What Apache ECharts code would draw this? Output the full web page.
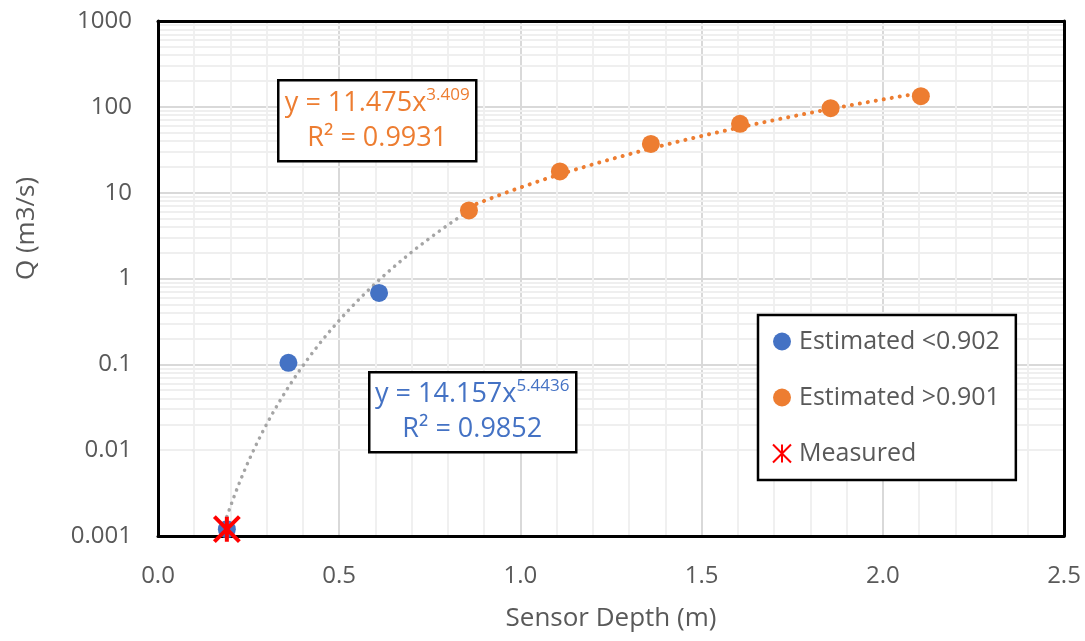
<!DOCTYPE html>
<html>
<head>
<meta charset="utf-8">
<script src="https://cdn.jsdelivr.net/npm/echarts@6/dist/echarts.min.js"></script>
<style>
html,body{margin:0;padding:0;background:#fff;}
#chart{width:1085px;height:641px;}
</style>
</head>
<body>
<div id="chart"></div>
<script>
// ---- data ----
const blueX = [0.19, 0.36, 0.61];
const blueY = [0.0012, 0.104, 0.68];
const orangeX = [0.858, 1.109, 1.36, 1.606, 1.856, 2.105];
const orangeY = [6.2, 17.7, 37, 63.5, 96.5, 133];
const measuredX = [0.19];
const measuredY = [0.0012];
// trendline equations shown on the chart: y = a * x^b
const blueTrend = [14.157, 5.4436];
const blueTrendRange = [0.19, 0.858];
const orangeTrend = [11.475, 3.409];
const orangeTrendRange = [0.858, 2.105];
// axis ticks
const xTicks = [0.0, 0.5, 1.0, 1.5, 2.0, 2.5];
const yTicks = [0.001, 0.01, 0.1, 1, 10, 100, 1000];
const yTickLabels = ['0.001', '0.01', '0.1', '1', '10', '100', '1000'];
const legendNames = ['Estimated <0.902', 'Estimated >0.901', 'Measured'];

const FONT = '"Open Sans", "Noto Sans", sans-serif';
const GREY_TXT = '#595959';

function pairs(xs, ys) { return xs.map((x, i) => [x, ys[i]]); }
function trend(coef, range) {
  const out = [];
  const n = 60;
  for (let i = 0; i <= n; i++) {
    const x = range[0] + (range[1] - range[0]) * i / n;
    out.push([x, coef[0] * Math.pow(x, coef[1])]);
  }
  return out;
}
// log minor grid values (2..9 within each decade)
const minorY = [];
for (let d = 0; d < yTicks.length - 1; d++) {
  for (let m = 2; m <= 9; m++) minorY.push({ yAxis: +(yTicks[d] * m).toPrecision(3) });
}

const chart = echarts.init(document.getElementById('chart'), null, { renderer: 'canvas' });
const option = {
  animation: false,
  backgroundColor: '#fff',
  textStyle: { fontFamily: FONT },
  grid: { left: 158, right: 21, top: 21, bottom: 105, containLabel: false },
  xAxis: [{
    type: 'value', min: 0, max: 2.5, interval: 0.5,
    name: 'Sensor Depth (m)', nameLocation: 'middle', nameGap: 70,
    nameTextStyle: { color: GREY_TXT, fontSize: 26, fontFamily: FONT },
    axisLine: { show: true, onZero: false, lineStyle: { color: '#000', width: 3 } },
    axisTick: { show: false },
    axisLabel: { color: GREY_TXT, fontSize: 24, margin: 28, fontFamily: FONT,
      formatter: v => xTicks.includes(+v.toFixed(1)) ? v.toFixed(1) : '' },
    splitLine: { show: true, lineStyle: { color: '#D9D9D9', width: 2 } },
    minorTick: { show: false, splitNumber: 5 },
    minorSplitLine: { show: true, lineStyle: { color: '#F0F0F0', width: 2 } }
  }, {
    type: 'value', min: 0, max: 2.5, position: 'top', show: true,
    axisLine: { show: true, onZero: false, lineStyle: { color: '#000', width: 3 } },
    axisTick: { show: false }, axisLabel: { show: false }, splitLine: { show: false }
  }],
  yAxis: [{
    type: 'log', logBase: 10, min: 0.001, max: 1000, splitNumber: 6,
    name: 'Q (m3/s)', nameLocation: 'middle', nameGap: 118, nameRotate: 90,
    nameTextStyle: { color: GREY_TXT, fontSize: 26, fontFamily: FONT, padding: [0, 0, 0, 100] },
    axisLine: { show: true, onZero: false, lineStyle: { color: '#000', width: 3 } },
    axisTick: { show: false },
    axisLabel: { color: GREY_TXT, fontSize: 24, margin: 26, fontFamily: FONT,
      formatter: v => { const i = yTicks.findIndex(t => Math.abs(Math.log10(t) - Math.log10(v)) < 1e-6); return i >= 0 ? yTickLabels[i] : ''; } },
    splitLine: { show: true, lineStyle: { color: '#D9D9D9', width: 2 } }
  }, {
    type: 'log', logBase: 10, min: 0.001, max: 1000, position: 'right',
    axisLine: { show: true, onZero: false, lineStyle: { color: '#000', width: 3 } },
    axisTick: { show: false }, axisLabel: { show: false }, splitLine: { show: false }
  }],
  legend: {
    data: legendNames, z: 20,
    orient: 'vertical', left: 758, top: 315,
    backgroundColor: '#fff', borderColor: '#000', borderWidth: 2.5,
    padding: [14, 16, 14, 14], itemGap: 31, itemWidth: 18, itemHeight: 18,
    textStyle: { color: GREY_TXT, fontSize: 25, fontFamily: FONT, padding: [0, 0, 0, 3] }
  },
  series: [
    {
      name: 'minor grid', type: 'line', data: [], silent: true, z: 0,
      markLine: { silent: true, z: 0, symbol: 'none', label: { show: false },
        lineStyle: { color: '#EFEFEF', width: 2, type: 'solid' }, data: minorY }
    },
    {
      name: 'Trend blue', type: 'line', data: trend(blueTrend, blueTrendRange),
      showSymbol: false, symbol: 'none', silent: true, z: 3,
      lineStyle: { color: '#A5A5A5', width: 3.5, type: [0.1, 7], cap: 'round' }
    },
    {
      name: 'Trend orange', type: 'line', data: trend(orangeTrend, orangeTrendRange),
      showSymbol: false, symbol: 'none', silent: true, z: 3,
      lineStyle: { color: '#ED7D31', width: 4, type: [0.1, 8], cap: 'round' }
    },
    {
      name: legendNames[0], type: 'scatter', data: pairs(blueX, blueY), symbol: 'circle',
      symbolSize: 18, z: 4, itemStyle: { color: '#4472C4', opacity: 1 }
    },
    {
      name: legendNames[1], type: 'scatter', data: pairs(orangeX, orangeY), symbol: 'circle',
      symbolSize: 18, z: 4, itemStyle: { color: '#ED7D31', opacity: 1 }
    },
    {
      name: legendNames[2], type: 'scatter', data: pairs(measuredX, measuredY),
      symbol: 'path://M0,0L20,20M20,0L0,20M10,0L10,20', symbolSize: 25, z: 5,
      itemStyle: { color: '#FF0000', borderColor: '#FF0000', borderWidth: 4, opacity: 1 }
    }
  ],
  graphic: [
    {
      type: 'group', left: 277, top: 79, z: 20,
      children: [
        { type: 'rect', z: 20, shape: { x: 0, y: 0, width: 198, height: 81 },
          style: { fill: '#fff', stroke: '#000', lineWidth: 2.5 } },
        { type: 'text', z: 21, x: 99, y: 6,
          style: { text: '{a|y = 11.475x}{s|3.409}\n{a|R² = 0.9931}', align: 'center',
            fill: '#ED7D31', fontFamily: FONT,
            rich: { a: { fontSize: 27, lineHeight: 35, fill: '#ED7D31', fontFamily: FONT },
                    s: { fontSize: 17, lineHeight: 35, verticalAlign: 'top', fill: '#ED7D31', fontFamily: FONT } } } }
      ]
    },
    {
      type: 'group', left: 368, top: 371, z: 20,
      children: [
        { type: 'rect', z: 20, shape: { x: 0, y: 0, width: 207, height: 80 },
          style: { fill: '#fff', stroke: '#000', lineWidth: 2.5 } },
        { type: 'text', z: 21, x: 103, y: 5,
          style: { text: '{a|y = 14.157x}{s|5.4436}\n{a|R² = 0.9852}', align: 'center',
            fill: '#4472C4', fontFamily: FONT,
            rich: { a: { fontSize: 27, lineHeight: 35, fill: '#4472C4', fontFamily: FONT },
                    s: { fontSize: 17, lineHeight: 35, verticalAlign: 'top', fill: '#4472C4', fontFamily: FONT } } } }
      ]
    }
  ]
};
chart.setOption(option);
</script>
</body>
</html>
